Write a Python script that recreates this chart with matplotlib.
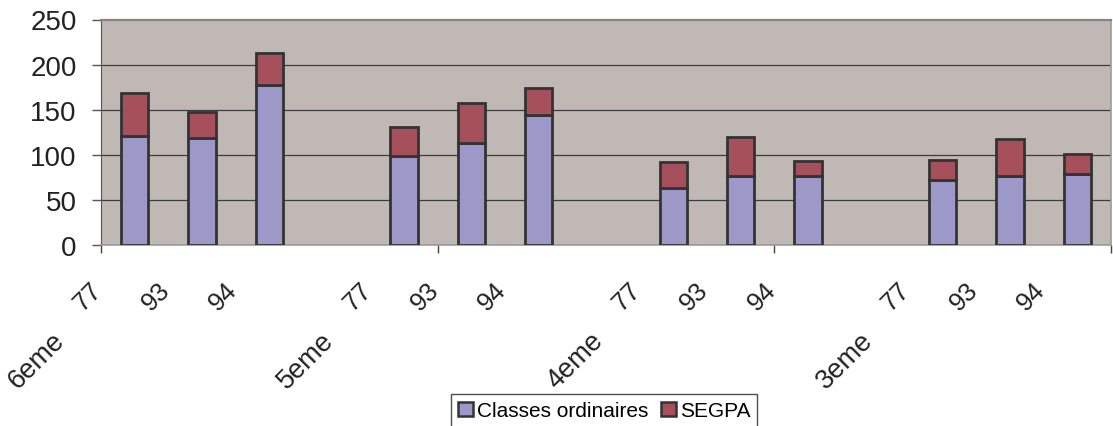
import matplotlib
matplotlib.use('Agg')
import matplotlib.pyplot as plt
from matplotlib.transforms import offset_copy, blended_transform_factory
from matplotlib.patches import Patch

plt.rcParams['font.family'] = ['Liberation Sans', 'DejaVu Sans']

groups = ['6eme', '5eme', '4eme', '3eme']
sub_labels = ['77', '93', '94']
classes = [121, 119, 177, 99, 113, 144, 63, 77, 76, 72, 76, 79]
segpa = [48, 29, 36, 32, 44, 30, 29, 43, 17, 22, 42, 22]
series_names = ['Classes ordinaires', 'SEGPA']
y_ticks = [0, 50, 100, 150, 200, 250]

c_classes = '#9C99C8'
c_segpa = '#A6505C'
edge = '#333333'

W, H = 1113, 427
fig = plt.figure(figsize=(W / 100, H / 100), dpi=100)
ax = fig.add_axes([101 / W, 1 - 246 / H, 1010 / W, 225.5 / H])
ax.set_facecolor('#C0B8B5')

slots_per_group = len(sub_labels) + 1
x = []
for g in range(len(groups)):
    for i in range(len(sub_labels)):
        x.append(g * slots_per_group + i)

ax.bar(x, classes, width=0.41, color=c_classes, edgecolor=edge, linewidth=2.0, zorder=3)
ax.bar(x, segpa, bottom=classes, width=0.41, color=c_segpa, edgecolor=edge, linewidth=2.0, zorder=3)

n_slots = len(groups) * slots_per_group - 1
ax.set_xlim(-0.5, n_slots - 0.5)
ax.set_ylim(0, 250)
ax.set_yticks(y_ticks)
ax.set_yticklabels([str(v) for v in y_ticks], fontsize=20, color='#222222')
for v in y_ticks[1:-1]:
    ax.axhline(v, color='#3c3c3c', lw=0.9, zorder=1)

ax.set_xticks([-0.5 + k * 5 for k in range(4)])
ax.set_xticklabels([])
ax.tick_params(axis='x', length=6, width=1, color='#444444', direction='out')
ax.tick_params(axis='y', length=6.5, width=1, color='#555555', direction='out', pad=11)

ax.spines['left'].set_color('#555555')
ax.spines['bottom'].set_color('#999999')
ax.spines['bottom'].set_linewidth(1.2)
ax.spines['top'].set_color('#8C8282')
ax.spines['top'].set_linewidth(1.6)
ax.spines['right'].set_color('#A09898')
ax.spines['right'].set_linewidth(1.2)

trans = blended_transform_factory(ax.transData, ax.transAxes)
sub_tr = offset_copy(trans, fig=fig, x=0, y=-41, units='dots')
grp_tr = offset_copy(trans, fig=fig, x=0, y=-91, units='dots')
for g in range(len(groups)):
    for i, lab in enumerate(sub_labels):
        xi = g * slots_per_group + i
        ax.text(xi - 0.54, 0, lab, transform=sub_tr, rotation=45, rotation_mode='anchor',
                ha='right', va='center', fontsize=18.5, color='#222222')
    ax.text(g * slots_per_group - 1.1, 0, groups[g], transform=grp_tr, rotation=45,
            rotation_mode='anchor', ha='right', va='center', fontsize=19.5, color='#222222')

handles = [Patch(facecolor=c_classes, edgecolor=edge, linewidth=1.8),
           Patch(facecolor=c_segpa, edgecolor=edge, linewidth=1.8)]
leg = fig.legend(handles, series_names, loc='upper left', bbox_to_anchor=(451 / W, 1 - 395 / H),
                 ncol=2, fontsize=15, frameon=True, fancybox=False, edgecolor='#222222',
                 handlelength=0.7, handleheight=0.7, handletextpad=0.2, columnspacing=0.6,
                 borderpad=0.35, borderaxespad=0)
leg.get_frame().set_linewidth(1.0)

fig.savefig('out.png', dpi=100)
